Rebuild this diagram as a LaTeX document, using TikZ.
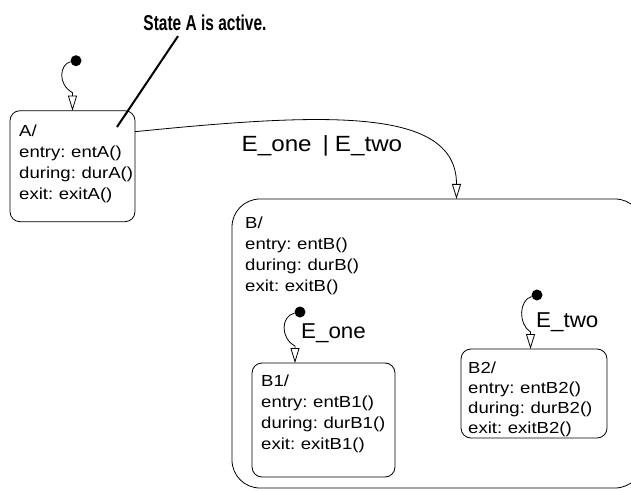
\documentclass[tikz,border=0pt]{standalone}
\usepackage{fontspec}
\setmainfont{Liberation Sans}
\newfontfamily\statefont{Liberation Sans}[FakeStretch=1.16,WordSpace=0.75]
\newfontfamily\labelfont{Liberation Sans}[FakeStretch=1.04]
\newfontfamily\biglabelfont{Liberation Sans}[FakeStretch=1.1]
\newfontfamily\notefont{Liberation Sans}[FakeStretch=0.72]
\usetikzlibrary{arrows.meta,calc}
\tikzset{
  statebox/.style={draw, rounded corners=10bp, line width=0.8bp, inner sep=0pt, outer sep=0pt},
  statetext/.style={anchor=north west, inner sep=0pt, align=left,
    font=\statefont\fontsize{16bp}{20.8bp}\selectfont},
  trans/.style={draw, line width=0.8bp, -{Triangle[open,length=15bp,width=9bp]}},
  initdot/.style={circle, fill=black, inner sep=0pt, minimum size=11bp},
  evlabel/.style={font=\labelfont\fontsize{21.5bp}{24bp}\selectfont, inner sep=0pt},
  bigevlabel/.style={font=\biglabelfont\fontsize{22bp}{24bp}\selectfont, inner sep=0pt},
  notetext/.style={font=\notefont\bfseries\fontsize{21.5bp}{24bp}\selectfont, inner sep=0pt}
}
\begin{document}
\begin{tikzpicture}[x=1bp,y=-1bp]
\useasboundingbox (0,0) rectangle (631,491);
\clip (0,0) rectangle (631,491);
% states
\node[statebox, minimum width=125bp, minimum height=111bp] (A) at (72.5,166.2) {};
\node[statebox, rounded corners=28bp, minimum width=411bp, minimum height=289bp] (B) at (437.5,343.5) {};
\node[statebox, minimum width=143bp, minimum height=114bp] (B1) at (323.5,420) {};
\node[statebox, minimum width=146bp, minimum height=89bp] (B2) at (534,393.5) {};
% state texts
\node[statetext] (tA) at (19,125) {A/\\entry: entA()\\during: durA()\\exit: exitA()};
\node[statetext] (tB) at (245,217) {B/\\entry: entB()\\during: durB()\\exit: exitB()};
\node[statetext] (tB1) at (261,375) {B1/\\entry: entB1()\\during: durB1()\\exit: exitB1()};
\node[statetext, font=\statefont\fontsize{16bp}{20bp}\selectfont] (tB2) at (468,361.5) {B2/\\entry: entB2()\\during: durB2()\\exit: exitB2()};
% default transitions
\node[initdot] (iA) at (76,60.7) {};
\node[initdot] (iB1) at (300,312) {};
\node[initdot] (iB2) at (537,295) {};
\draw[trans] (iA) .. controls (60,64) and (57,84) .. ([yshift=18bp]A.north) -- (A.north);
\draw[trans] (iB1) .. controls (281,316) and (280,338) .. ([xshift=-28.5bp,yshift=17bp]B1.north) -- ([xshift=-28.5bp]B1.north);
\draw[trans] (iB2) .. controls (519,300) and (518,324) .. ([xshift=-3.5bp,yshift=17bp]B2.north) -- ([xshift=-3.5bp]B2.north);
% transition A -> B
\draw[trans] ([yshift=-21bp]A.north east) .. controls (330,112) and (456.5,108) .. ([xshift=19bp]B.north);
% labels
\node[bigevlabel, anchor=base west] (lAB) at (241.5,151.5) {E\_one\hspace{11bp}|\hspace{6bp}E\_two};
\node[evlabel, anchor=base west] (lB1) at (301,338) {E\_one};
\node[evlabel, anchor=base west] (lB2) at (536,327) {E\_two};
% annotation
\node[notetext, anchor=base] (note) at (205,30.7) {State A is active.};
\coordinate (noteEnd) at (117,127);
\draw[line width=2bp] ([xshift=-27bp,yshift=-5bp]note.south) -- (noteEnd);
\end{tikzpicture}
\end{document}
